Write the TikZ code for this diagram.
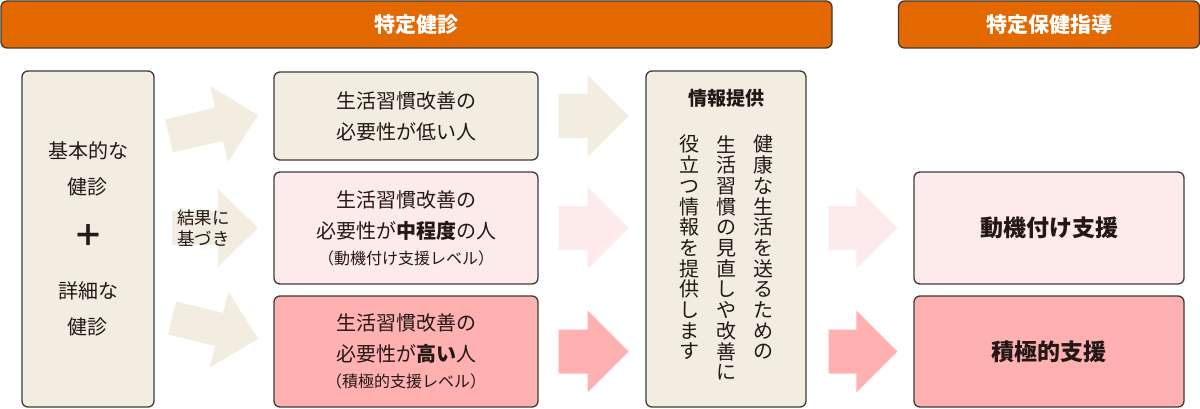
\documentclass[tikz,border=0pt]{standalone}
\usepackage{fontspec}
\setmainfont{Noto Sans CJK JP}
\usetikzlibrary{calc}
\definecolor{barorange}{HTML}{E36800}
\definecolor{beige}{HTML}{F3EDE1}
\definecolor{palepink}{HTML}{FDEBEB}
\definecolor{rosepink}{HTML}{FFB1B1}
\definecolor{edge}{HTML}{3E3A39}
\definecolor{ink}{HTML}{231815}
\newcommand{\fatarrow}[6]{
  \coordinate (hb) at ($(#2)!#5!(#1)$);
  \fill[#6] ($(#1)!#3!90:(#2)$) -- ($(hb)!#3!90:(#2)$) -- ($(hb)!#4!90:(#2)$) -- (#2)
    -- ($(hb)!#4!-90:(#2)$) -- ($(hb)!#3!-90:(#2)$) -- ($(#1)!#3!-90:(#2)$) -- cycle;
}
\begin{document}
\begin{tikzpicture}[x=1pt, y=-1pt,
  every node/.style={text=ink, inner sep=0pt},
  box/.style={draw=edge, line width=1.3pt, rounded corners=6pt, align=center,
    font=\fontsize{20pt}{31pt}\selectfont},
  bar/.style={box, fill=barorange, text=white, font=\fontsize{21pt}{24pt}\selectfont\bfseries},
  vtext/.style={align=center, anchor=north, font=\fontsize{20pt}{20.7pt}\selectfont}]
  \useasboundingbox (0,0) rectangle (1200,409);

  \node[bar, minimum width=831pt, minimum height=47pt] (kenshin) at (416.5,24.5) {特定健診};
  \node[bar, minimum width=301pt, minimum height=47pt] (hoken) at (1049,24.5) {特定保健指導};

  \coordinate (s1) at (169,136); \coordinate (e1) at (258,115);
  \coordinate (s2) at (172,228); \coordinate (e2) at (258,228);
  \coordinate (s3) at (172,318); \coordinate (e3) at (258,339);
  \fatarrow{s1}{e1}{17pt}{39pt}{40pt}{beige}
  \fatarrow{s2}{e2}{17pt}{39pt}{40pt}{beige}
  \fatarrow{s3}{e3}{17pt}{39pt}{40pt}{beige}

  \node[box, fill=beige, minimum width=132pt, minimum height=336pt,
    font=\fontsize{20pt}{36pt}\selectfont] (kihon) at (88,239)
    {基本的な\\健診\\[16pt]{\fontsize{30pt}{30pt}\selectfont\bfseries ＋}\\[16pt]詳細な\\健診};
  \node[align=left, anchor=west, font=\fontsize{17.5pt}{21pt}\selectfont] (kekka) at (177,228.5)
    {結果に\\基づき};

  \node[box, fill=beige, minimum width=264pt, minimum height=88pt] (low) at (406,116)
    {生活習慣改善の\\必要性が低い人};
  \node[box, fill=palepink, minimum width=264pt, minimum height=112pt] (mid) at (406,228)
    {生活習慣改善の\\必要性が\textbf{中程度}の人\\[-5pt]{\fontsize{16pt}{16pt}\selectfont （動機付け支援レベル）}};
  \node[box, fill=rosepink, minimum width=264pt, minimum height=111pt] (high) at (406,351.5)
    {生活習慣改善の\\必要性が\textbf{高い}人\\[-5pt]{\fontsize{16pt}{16pt}\selectfont （積極的支援レベル）}};

  \coordinate (s4) at ($(low.east)+(20,0)$); \coordinate (e4) at ($(low.east)+(90,0)$);
  \coordinate (s5) at ($(mid.east)+(20,0)$); \coordinate (e5) at ($(mid.east)+(90,0)$);
  \coordinate (s6) at ($(high.east)+(20,0)$); \coordinate (e6) at ($(high.east)+(90,0)$);
  \fatarrow{s4}{e4}{22pt}{41pt}{41pt}{beige}
  \fatarrow{s5}{e5}{22pt}{41pt}{41pt}{palepink}
  \fatarrow{s6}{e6}{22pt}{41pt}{41pt}{rosepink}

  \node[box, fill=beige, minimum width=160pt, minimum height=336pt] (info) at (726,239) {};
  \node[font=\fontsize{19pt}{19pt}\selectfont\bfseries] (teikyo) at (726,98) {情報提供};
  \node[vtext] (col1) at (763,135) {健\\康\\な\\生\\活\\を\\送\\る\\た\\め\\の};
  \node[vtext] (col2) at (726,135) {生\\活\\習\\慣\\の\\見\\直\\し\\や\\改\\善\\に};
  \node[vtext] (col3) at (689,135) {役\\立\\つ\\情\\報\\を\\提\\供\\し\\ま\\す};

  \node[box, fill=palepink, minimum width=270pt, minimum height=112pt,
    font=\fontsize{23pt}{23pt}\selectfont\bfseries] (doki) at (1049,228) {動機付け支援};
  \node[box, fill=rosepink, minimum width=270pt, minimum height=111pt,
    font=\fontsize{23pt}{23pt}\selectfont\bfseries] (sekkyoku) at (1049,351.5) {積極的支援};

  \coordinate (s7) at ($(info.east |- mid.east)+(22,0)$); \coordinate (e7) at ($(doki.west)+(-16,0)$);
  \coordinate (s8) at ($(info.east |- high.east)+(22,0)$); \coordinate (e8) at ($(sekkyoku.west)+(-16,0)$);
  \fatarrow{s7}{e7}{22pt}{41pt}{41pt}{palepink}
  \fatarrow{s8}{e8}{22pt}{41pt}{41pt}{rosepink}
\end{tikzpicture}
\end{document}
